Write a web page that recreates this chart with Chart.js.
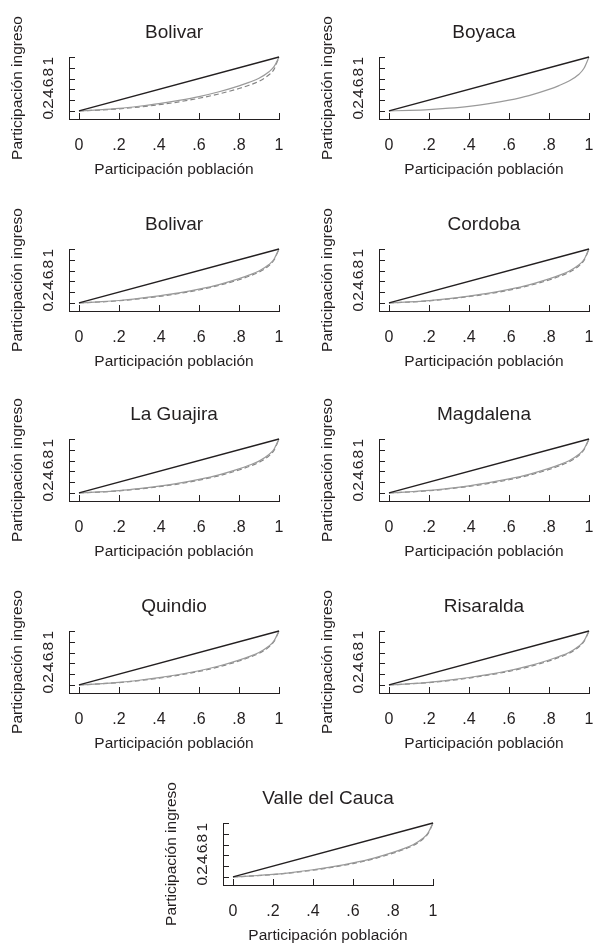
<!DOCTYPE html>
<html>
<head>
<meta charset="utf-8">
<script src="https://cdn.jsdelivr.net/npm/chart.js@4"></script>
<style>
  html, body { margin: 0; padding: 0; background: #fff; }
  body { width: 593px; height: 946px; position: relative; overflow: hidden; }
  .panel { position: absolute; width: 288px; height: 190px; }
</style>
</head>
<body>
<script>
// ---- data ----
const xShares = [0, 0.1, 0.2, 0.3, 0.4, 0.5, 0.6, 0.7, 0.8, 0.85, 0.9, 0.95, 0.975, 1];
const equalityX = [0, 1];
const equalityY = [0, 1];
const xTickValues = [0, 0.2, 0.4, 0.6, 0.8, 1];
const xTickLabels = ['0', '.2', '.4', '.6', '.8', '1'];
const yTickValues = [0, 0.2, 0.4, 0.6, 0.8, 1];
const yTickLabels = ['0', '.2', '.4', '.6', '.8', '1'];
const xAxisTitle = 'Participación población';
const yAxisTitle = 'Participación ingreso';
const panelTitles = ['Bolivar', 'Boyaca', 'Bolivar', 'Cordoba', 'La Guajira', 'Magdalena', 'Quindio', 'Risaralda', 'Valle del Cauca'];

const solidBolivarA   = [0, 0.020, 0.047, 0.087, 0.135, 0.195, 0.265, 0.355, 0.465, 0.530, 0.605, 0.725, 0.820, 1];
const dashedBolivarA  = [0, 0.015, 0.037, 0.072, 0.115, 0.168, 0.235, 0.315, 0.415, 0.475, 0.550, 0.670, 0.770, 1];
const solidBoyaca     = [0, 0.010, 0.025, 0.050, 0.085, 0.135, 0.200, 0.285, 0.400, 0.470, 0.555, 0.680, 0.790, 1];
const solidBolivarB   = [0, 0.020, 0.045, 0.083, 0.130, 0.185, 0.255, 0.340, 0.450, 0.515, 0.592, 0.712, 0.810, 1];
const dashedBolivarB  = [0, 0.017, 0.040, 0.076, 0.120, 0.175, 0.240, 0.325, 0.430, 0.495, 0.572, 0.692, 0.795, 1];
const solidCordoba    = [0, 0.019, 0.044, 0.080, 0.127, 0.180, 0.250, 0.335, 0.445, 0.510, 0.587, 0.707, 0.805, 1];
const dashedCordoba   = [0, 0.016, 0.039, 0.073, 0.118, 0.170, 0.237, 0.320, 0.425, 0.490, 0.567, 0.687, 0.790, 1];
const solidGuajira    = [0, 0.018, 0.043, 0.080, 0.125, 0.180, 0.250, 0.335, 0.445, 0.512, 0.590, 0.712, 0.810, 1];
const dashedGuajira   = [0, 0.015, 0.038, 0.072, 0.115, 0.168, 0.236, 0.318, 0.425, 0.490, 0.567, 0.687, 0.790, 1];
const solidMagdalena  = [0, 0.020, 0.046, 0.085, 0.132, 0.190, 0.260, 0.345, 0.455, 0.520, 0.597, 0.717, 0.815, 1];
const dashedMagdalena = [0, 0.017, 0.040, 0.077, 0.121, 0.176, 0.244, 0.327, 0.435, 0.500, 0.577, 0.697, 0.800, 1];
const solidQuindio    = [0, 0.020, 0.047, 0.087, 0.135, 0.193, 0.263, 0.350, 0.460, 0.525, 0.602, 0.722, 0.818, 1];
const dashedQuindio   = [0, 0.018, 0.043, 0.080, 0.126, 0.182, 0.250, 0.335, 0.443, 0.508, 0.585, 0.705, 0.805, 1];
const solidRisaralda  = [0, 0.021, 0.048, 0.088, 0.137, 0.196, 0.267, 0.353, 0.462, 0.527, 0.602, 0.722, 0.818, 1];
const dashedRisaralda = [0, 0.018, 0.043, 0.080, 0.127, 0.184, 0.252, 0.337, 0.445, 0.510, 0.587, 0.707, 0.806, 1];
const solidValle      = [0, 0.020, 0.046, 0.085, 0.133, 0.190, 0.260, 0.345, 0.455, 0.520, 0.597, 0.717, 0.815, 1];
const dashedValle     = [0, 0.018, 0.042, 0.079, 0.125, 0.180, 0.248, 0.332, 0.440, 0.505, 0.582, 0.702, 0.802, 1];

const panelSolid  = [solidBolivarA, solidBoyaca, solidBolivarB, solidCordoba, solidGuajira, solidMagdalena, solidQuindio, solidRisaralda, solidValle];
const panelDashed = [dashedBolivarA, null, dashedBolivarB, dashedCordoba, dashedGuajira, dashedMagdalena, dashedQuindio, dashedRisaralda, dashedValle];

// ---- layout (positions of each small graph) ----
const panelLeft = [0, 310, 0, 310, 0, 310, 0, 310, 154];
const panelTop  = [0, 0, 192, 192, 382, 382, 574, 574, 766];

const FONT = '"Liberation Sans", Arial, Helvetica, sans-serif';
const TEXT = '#231f20';
Chart.defaults.font.family = FONT;
Chart.defaults.color = TEXT;

const innerTicks = {
  id: 'innerTicks',
  afterDraw(chart) {
    const { ctx, chartArea, scales } = chart;
    const sx = scales.x, sy = scales.y;
    ctx.save();
    ctx.strokeStyle = '#231f20';
    ctx.lineWidth = 1;
    ctx.beginPath();
    xTickValues.forEach(v => {
      const px = Math.round(sx.getPixelForValue(v)) + 0.5;
      ctx.moveTo(px, chartArea.bottom);
      ctx.lineTo(px, chartArea.bottom - 6);
    });
    yTickValues.forEach(v => {
      const py = Math.round(sy.getPixelForValue(v)) + 0.5;
      ctx.moveTo(chartArea.left, py);
      ctx.lineTo(chartArea.left + 6, py);
    });
    ctx.stroke();
    ctx.restore();
  }
};

function toPoints(xs, ys) { return xs.map((x, i) => ({ x: x, y: ys[i] })); }

panelTitles.forEach((title, p) => {
  const div = document.createElement('div');
  div.className = 'panel';
  div.style.left = panelLeft[p] + 'px';
  div.style.top = panelTop[p] + 'px';
  const canvas = document.createElement('canvas');
  canvas.width = 288; canvas.height = 190;
  canvas.style.width = '288px'; canvas.style.height = '190px';
  div.appendChild(canvas);
  document.body.appendChild(div);

  const datasets = [
    { data: toPoints(equalityX, equalityY), borderColor: '#231f20', borderWidth: 1.3, clip: false },
    { data: toPoints(xShares, panelSolid[p]), borderColor: '#9a9a9a', borderWidth: 1.2, cubicInterpolationMode: 'monotone', clip: false }
  ];
  if (panelDashed[p]) {
    datasets.push({ data: toPoints(xShares, panelDashed[p]), borderColor: '#858585', borderWidth: 1.2, borderDash: [5, 3], cubicInterpolationMode: 'monotone', clip: false });
  }

  new Chart(canvas, {
    type: 'line',
    data: { datasets },
    options: {
      responsive: false,
      animation: false,
      devicePixelRatio: 1,
      layout: { padding: { left: 8, right: 9, top: 0, bottom: 11 } },
      elements: { point: { radius: 0 }, line: { tension: 0 } },
      plugins: {
        legend: { display: false },
        tooltip: { enabled: false },
        title: {
          display: true, text: title, fullSize: false,
          font: { size: 19, weight: 'normal' }, color: TEXT,
          padding: { top: 21.6, bottom: 12.6 }
        }
      },
      scales: {
        x: {
          type: 'linear', min: -0.05, max: 1,
          afterBuildTicks: s => { s.ticks = xTickValues.map(v => ({ value: v })); },
          afterFit: s => { s.height = 60; },
          grid: { display: false, drawTicks: true, tickLength: 14.4 },
          border: { display: true, color: '#231f20', width: 1 },
          ticks: { autoSkip: false, maxRotation: 0, padding: 3, font: { size: 16 }, color: TEXT,
                   callback: (v, i) => xTickLabels[i] },
          title: { display: true, text: xAxisTitle, font: { size: 15.5 }, color: TEXT, padding: 0 }
        },
        y: {
          type: 'linear', min: -0.15, max: 1,
          afterBuildTicks: s => { s.ticks = yTickValues.map(v => ({ value: v })); },
          afterFit: s => { s.width = 61; },
          grid: { display: false, drawTicks: true, tickLength: 17 },
          border: { display: true, color: '#231f20', width: 1 },
          ticks: { autoSkip: false, minRotation: 90, maxRotation: 90, padding: 3, font: { size: 15.5 }, color: TEXT,
                   callback: (v, i) => yTickLabels[i] },
          title: { display: true, text: yAxisTitle, font: { size: 15.5 }, color: TEXT, padding: 0 }
        }
      }
    },
    plugins: [innerTicks]
  });
});
</script>
</body>
</html>
